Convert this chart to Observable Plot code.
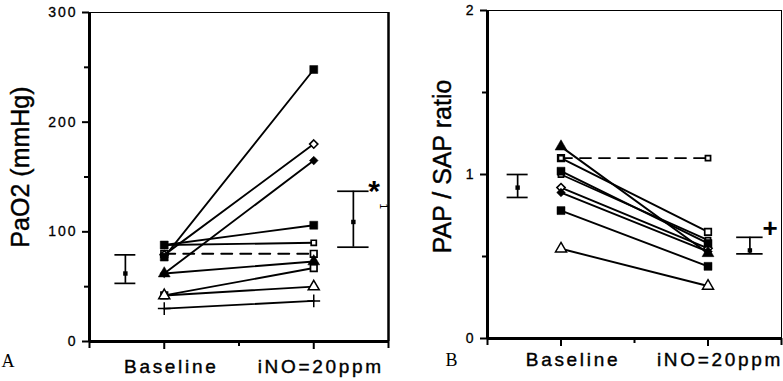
<!DOCTYPE html>
<html><head><meta charset="utf-8">
<script src="https://cdn.jsdelivr.net/npm/d3@7"></script>
<script src="https://cdn.jsdelivr.net/npm/@observablehq/plot@0.6"></script>
<style>
body{margin:0;background:#fff}
#wrap{position:relative;width:783px;height:381px;overflow:hidden;background:#fff}
#wrap svg{position:absolute;top:0}
</style></head><body><div id="wrap"></div>
<script>
// ---- data ----
const timepoints = ["Baseline", "iNO=20ppm"];

// Panel A: PaO2 (mmHg)
const pao2Baseline = [77, 79, 62, 88, 88, 80, 62, 42, 42, 30];
const pao2INO      = [248, 180, 165, 106, 90, 80, 73, 67, 50, 37];
const pao2Markers  = ["filledSquare", "openDiamond", "filledDiamond", "filledSquare", "smallOpenSquare",
                      "openSquare", "filledTriangle", "openSquare", "openTriangle", "plus"];
const pao2Dashed   = [false, false, false, false, false, true, false, false, false, false];
const pao2Mean  = [62, 109];
const pao2Upper = [79, 137];
const pao2Lower = [53, 86];
const pao2Ticks = [0, 100, 200, 300];
const pao2MinorTicks = [50, 150, 250];

// Panel B: PAP / SAP ratio
const ratioBaseline = [1.17, 1.10, 1.10, 1.02, 1.00, 0.92, 0.89, 0.78, 0.547];
const ratioINO      = [0.52, 0.65, 1.10, 0.58, 0.60, 0.55, 0.53, 0.44, 0.32];
const ratioMarkers  = ["filledTriangle", "openSquare", "smallOpenSquare", "filledSquare", "smallOpenSquare",
                       "openDiamond", "filledDiamond", "filledSquare", "openTriangle"];
const ratioDashed   = [false, false, true, false, false, false, false, false, false];
const ratioMean  = [0.92, 0.537];
const ratioUpper = [1.0, 0.617];
const ratioLower = [0.86, 0.516];
const ratioTicks = [0, 1, 2];
const ratioMinorTicks = [0.5, 1.5];

// ---- styles (open markers drawn first, filled on top) ----
const markerStyle = {
  openSquare:      {symbol: "square",   r: 3.7, fill: "white", stroke: "black", strokeWidth: 1.7},
  smallOpenSquare: {symbol: "square",   r: 2.9, fill: "white", stroke: "black", strokeWidth: 1.7},
  openDiamond:     {symbol: "diamond2", r: 3.7, fill: "white", stroke: "black", strokeWidth: 1.6},
  openTriangle:    {symbol: "triangle", r: 4.1, fill: "white", stroke: "black", strokeWidth: 1.5},
  plus:            {symbol: "plus",     r: 4.2, fill: "none",  stroke: "black", strokeWidth: 1.5},
  filledSquare:    {symbol: "square",   r: 4.5, fill: "black", stroke: "black", strokeWidth: 0.5},
  filledDiamond:   {symbol: "diamond2", r: 3.9, fill: "black", stroke: "black", strokeWidth: 0.5},
  filledTriangle:  {symbol: "triangle", r: 4.4, fill: "black", stroke: "black", strokeWidth: 0.5}
};
const xOf = t => 1 + 2 * timepoints.indexOf(t);
const FONT = "'Liberation Sans', Arial, Helvetica, sans-serif";

function panel(o) {
  const rows = [];
  o.base.forEach((b, i) => {
    rows.push({id: i, x: xOf(timepoints[0]), y: b, marker: o.markers[i], dashed: o.dashed[i]});
    rows.push({id: i, x: xOf(timepoints[1]), y: o.ino[i], marker: o.markers[i], dashed: o.dashed[i]});
  });
  const summary = o.mean.map((m, i) => ({x: o.sumX[i], mean: m, hi: o.upper[i], lo: o.lower[i], cap: o.capHalf[i]}));
  const dotMarks = Object.entries(markerStyle).map(([k, s]) =>
    Plot.dot(rows.filter(r => r.marker === k), {x: "x", y: "y", ...s}));
  const tickOpts = {strokeWidth: 2, tickFormat: () => "", stroke: "black", label: null};
  const svg = Plot.plot({
    width: o.width, height: 381,
    marginLeft: o.ml, marginRight: o.mr, marginTop: o.mt, marginBottom: o.mb,
    x: {domain: [0, 4], axis: null},
    y: {domain: o.yDomain, axis: null},
    style: {fontFamily: FONT, fontSize: "14px", background: "white", color: "black", overflow: "visible"},
    marks: [
      Plot.frame({stroke: "black", strokeWidth: 1}),
      Plot.ruleX([4], {stroke: "black", strokeWidth: o.rightBorder}),
      Plot.axisY({ticks: o.ticks, tickSize: 7, tickPadding: 5, strokeWidth: 2, stroke: "black", fill: "black",
        fontSize: 14, label: null, tickFormat: d => String(d)}),
      Plot.axisY({ticks: o.minor, tickSize: 5, ...tickOpts}),
      Plot.axisX({ticks: [1, 3], tickSize: 8, ...tickOpts}),
      Plot.axisX({ticks: [0, 4], tickSize: 7, ...tickOpts}),
      Plot.axisX({ticks: [2], tickSize: 5, ...tickOpts}),
      Plot.ruleX([0], {stroke: "black", strokeWidth: 3}),
      Plot.ruleY([o.yDomain[0]], {stroke: "black", strokeWidth: 3}),
      Plot.line(rows.filter(r => !r.dashed), {x: "x", y: "y", z: "id", stroke: "black", strokeWidth: 1.9}),
      Plot.line(rows.filter(r => r.dashed), {x: "x", y: "y", z: "id", stroke: "black", strokeWidth: 1.9, strokeDasharray: "11,8"}),
      ...dotMarks,
      Plot.ruleX(summary, {x: "x", y1: "lo", y2: "hi", stroke: "black", strokeWidth: 1.7}),
      Plot.ruleY(summary, {y: "hi", x1: d => d.x - d.cap, x2: d => d.x + d.cap, stroke: "black", strokeWidth: 1.7}),
      Plot.ruleY(summary, {y: "lo", x1: d => d.x - d.cap, x2: d => d.x + d.cap, stroke: "black", strokeWidth: 1.7}),
      Plot.dot(summary, {x: "x", y: "mean", symbol: "square", r: 2.5, fill: "black"}),
      Plot.text(timepoints, {x: xOf, text: d => d, frameAnchor: "bottom", lineAnchor: "middle", dy: o.tlDy, dx: o.tlDx,
        fontSize: 19, fontFamily: FONT, fill: "black", stroke: "black", strokeWidth: 0.4}),
      Plot.text([o.yLabel], {frameAnchor: "left", rotate: -90, dx: o.ylDx, dy: o.ylDy, fontSize: 25,
        fontFamily: FONT, fill: "black", stroke: "black", strokeWidth: 0.4, textAnchor: "middle", lineAnchor: "middle"}),
      Plot.text([o.letter], {frameAnchor: "bottom-left", textAnchor: "start", lineAnchor: "middle", dx: o.letDx, dy: o.letDy,
        fontSize: 18, fontFamily: "'Liberation Serif', 'Times New Roman', serif", fill: "black"}),
      Plot.text([summary[1]], {x: d => d.x + d.cap, y: "hi", text: () => o.sig, dx: o.sigDx, dy: o.sigDy,
        fontSize: o.sigSize, fontWeight: "bold", fontFamily: FONT, fill: "black", lineAnchor: "middle"}),
      ...(o.extra ? [Plot.text([summary[1]], {x: d => d.x + d.cap, y: "hi", text: () => "1", dx: 14, dy: 15,
        rotate: 90, fontSize: 10, fontFamily: FONT, fill: "black"})] : [])
    ]
  });
  d3.select(svg).selectAll("text").each(function () {
    const p = this.parentNode && this.parentNode.getAttribute("aria-label") || "";
    if (p.includes("tick label")) { this.style.letterSpacing = "2px"; this.style.stroke = "black"; this.style.strokeWidth = "0.3px"; }
    if (timepoints.includes(this.textContent)) this.style.letterSpacing = "2.7px";
  });
  return svg;
}

const wrap = document.getElementById("wrap");
const A = panel({
  width: 400, ml: 89, mr: 12, mt: 12, mb: 40, yDomain: [0, 300],
  ticks: pao2Ticks, minor: pao2MinorTicks,
  base: pao2Baseline, ino: pao2INO, markers: pao2Markers, dashed: pao2Dashed,
  mean: pao2Mean, upper: pao2Upper, lower: pao2Lower, sumX: [0.48, 3.53], capHalf: [0.14, 0.21],
  yLabel: "PaO2 (mmHg)", ylDx: -69, ylDy: -10, letter: "A", letDx: -88, letDy: 20,
  tlDy: 25, tlDx: 7, sig: "*", sigDx: 5, sigDy: 0, sigSize: 30, rightBorder: 2.5, extra: true
});
A.style.left = "0px";
const B = panel({
  width: 383, ml: 87, mr: 2, mt: 10, mb: 43, yDomain: [0, 2],
  ticks: ratioTicks, minor: ratioMinorTicks,
  base: ratioBaseline, ino: ratioINO, markers: ratioMarkers, dashed: ratioDashed,
  mean: ratioMean, upper: ratioUpper, lower: ratioLower, sumX: [0.41, 3.57], capHalf: [0.143, 0.18],
  yLabel: "PAP / SAP ratio", ylDx: -45, ylDy: -8, letter: "B", letDx: -42, letDy: 22,
  tlDy: 21, tlDx: 12, sig: "+", sigDx: 7, sigDy: -9, sigSize: 26, rightBorder: 1, extra: false
});
B.style.left = "400px";
wrap.append(A, B);
</script>
</body></html>
